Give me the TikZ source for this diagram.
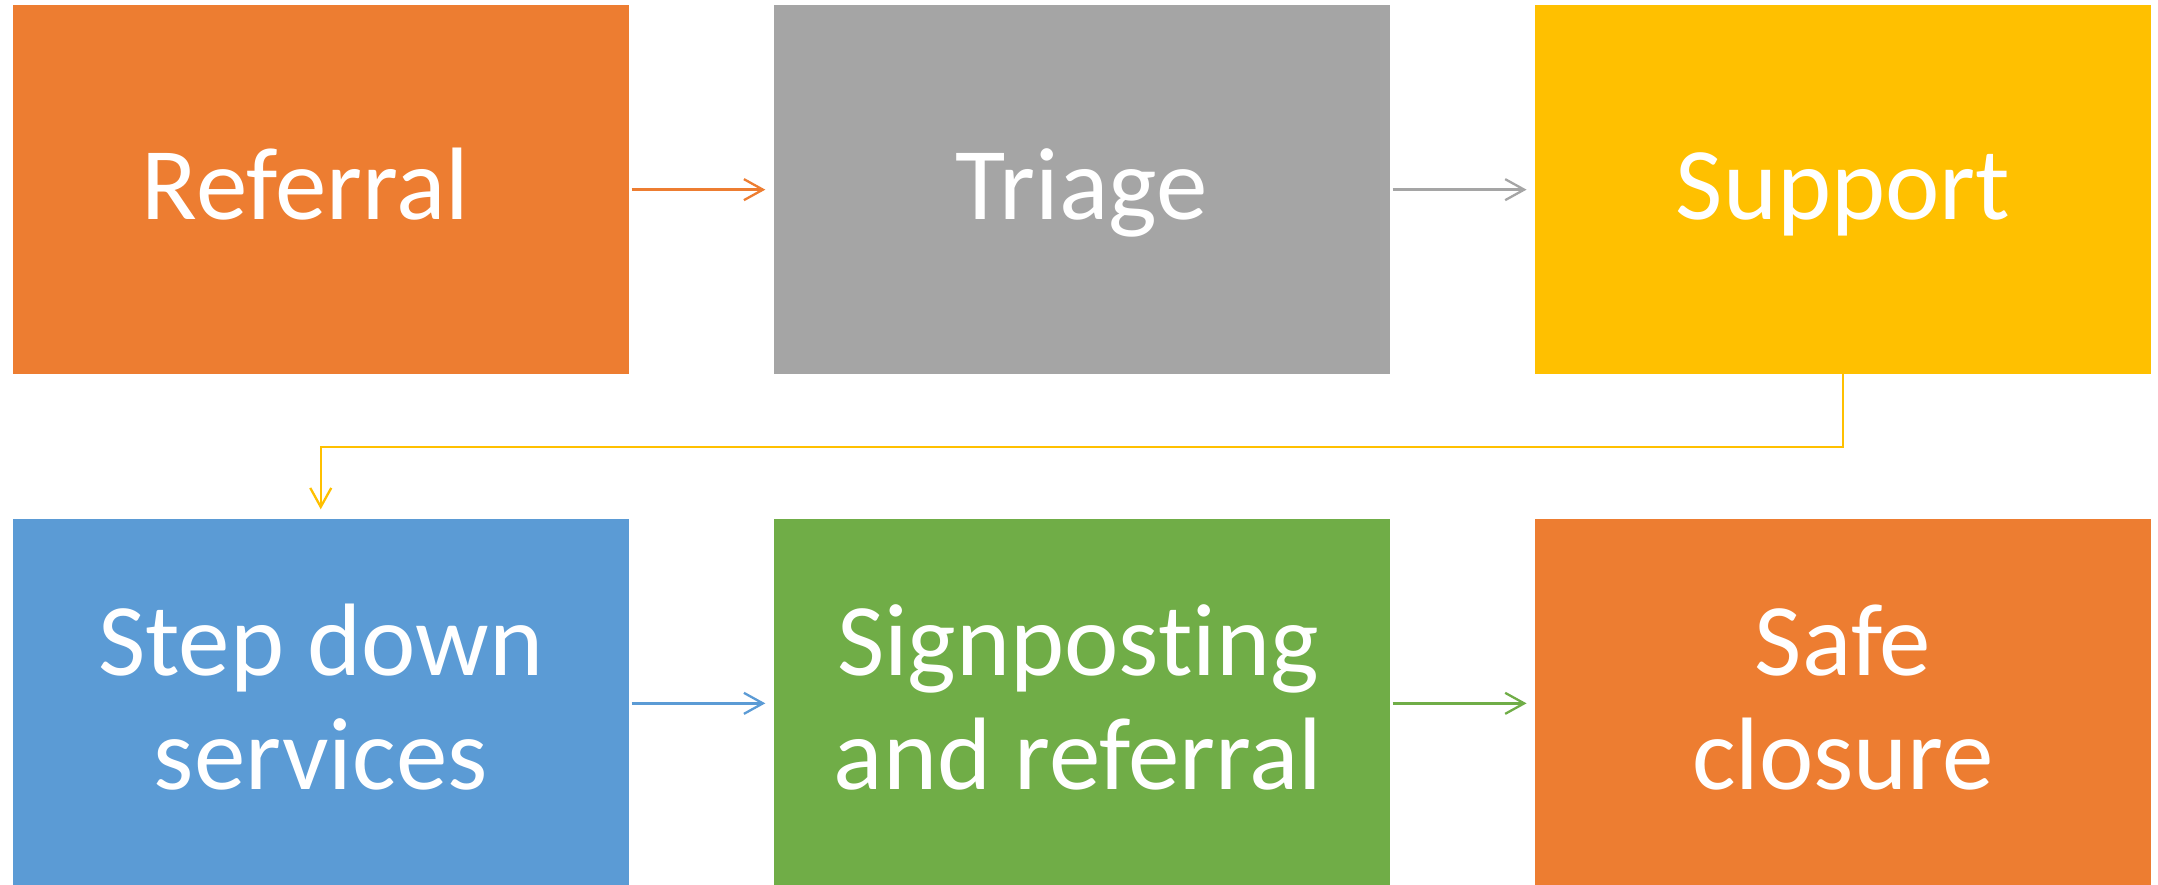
\documentclass[tikz,border=0pt]{standalone}
\usepackage{fontspec}
\setmainfont{Carlito}[Ligatures={NoCommon,NoContextual}]
\usetikzlibrary{arrows.meta}
\definecolor{cOrange}{HTML}{ED7D31}
\definecolor{cGray}{HTML}{A5A5A5}
\definecolor{cYellow}{HTML}{FFC000}
\definecolor{cBlue}{HTML}{5B9BD5}
\definecolor{cGreen}{HTML}{70AD47}
\begin{document}
\begin{tikzpicture}[x=1pt,y=-1pt,
  stagebox/.style={rectangle, draw=none, inner sep=0pt, minimum width=616.5pt, minimum height=368.7pt},
  lbl/.style={inner sep=0pt, anchor=base, text=white, font=\fontsize{103}{114}\selectfont},
  flow/.style={line width=2.3pt, -{Straight Barb[length=19pt,width=21pt,line width=2.3pt]}, shorten <=2.5pt, shorten >=8pt}]
\useasboundingbox (0,0) rectangle (2158,885);
\clip (0,0) rectangle (2158,885);
% boxes
\node[stagebox, fill=cOrange] (ref) at (320.75,189.65) {};
\node[stagebox, fill=cGray]   (tri) at (1081.75,189.65) {};
\node[stagebox, fill=cYellow] (sup) at (1843,189.65) {};
\node[stagebox, fill=cBlue]   (stp) at (320.75,703.35) {};
\node[stagebox, fill=cGreen]  (sig) at (1081.75,703.35) {};
\node[stagebox, fill=cOrange] (saf) at (1843,703.35) {};
% labels
\node[lbl] (tref) at (305.5,219.3) {Referral};
\node[lbl] (ttri) at (1081.75,219.3) {Triage};
\node[lbl] (tsup) at (1843,219.3) {Support};
\node[lbl] (tstp) at (320.75,675) {\begin{tabular}[t]{@{}c@{}}Step down\\services\end{tabular}};
\node[lbl] (tsig) at (1078,675) {\begin{tabular}[t]{@{}c@{}}Signposting\\and referral\end{tabular}};
\node[lbl] (tsaf) at (1843,675) {\begin{tabular}[t]{@{}c@{}}Safe\\closure\end{tabular}};
% connectors
\coordinate (bendR) at (1843,446.7);
\coordinate (bendL) at (320.75,446.7);
\draw[flow, draw=cOrange] (ref.east) -- (tri.west);
\draw[flow, draw=cGray] (tri.east) -- (sup.west);
\draw[flow, draw=cYellow, shorten <=0pt, shorten >=9.5pt] (sup.south) -- (bendR) -- (bendL) -- (stp.north);
\draw[flow, draw=cBlue] (stp.east) -- (sig.west);
\draw[flow, draw=cGreen] (sig.east) -- (saf.west);
\end{tikzpicture}
\end{document}
